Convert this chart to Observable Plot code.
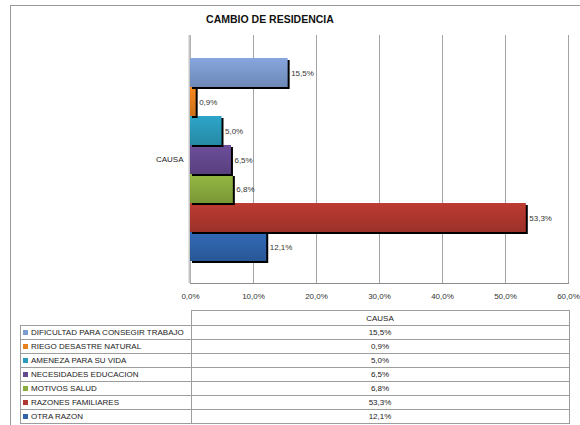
<!DOCTYPE html>
<html><head><meta charset="utf-8">
<script src="https://cdn.jsdelivr.net/npm/d3@7"></script>
<script src="https://cdn.jsdelivr.net/npm/@observablehq/plot@0.6"></script>
<style>
html,body{margin:0;padding:0;background:#fff;overflow:hidden;width:580px;height:425px;position:relative;}
#frame{position:absolute;left:10px;top:5px;width:640px;height:480px;border:1px solid #9a9a9a;}
#title{position:absolute;left:0;width:540px;top:13px;line-height:13px;text-align:center;font:bold 10.5px 'Liberation Sans',Arial,sans-serif;color:#111;}
#chart{position:absolute;left:0;top:0;}
#tbl{position:absolute;left:20px;top:310px;border-collapse:collapse;font:8px 'Liberation Sans',Arial,sans-serif;color:#222;}
#tbl td{border:1px solid #9d9d9d;padding:0 2px;height:13px;line-height:13px;white-space:nowrap;}
#tbl td.v{text-align:center;}
.sw{display:inline-block;width:5px;height:5px;margin-right:3px;vertical-align:0px;}
</style></head>
<body>
<div id="frame"></div>
<div id="title">CAMBIO DE RESIDENCIA</div>
<div id="chart"></div>
<svg width="0" height="0" style="position:absolute"><defs id="grads"></defs></svg>
<table id="tbl"></table>
<script>
const groupLabel = "CAUSA";
const names = ["DIFICULTAD PARA CONSEGIR TRABAJO","RIEGO DESASTRE NATURAL","AMENEZA PARA SU VIDA","NECESIDADES EDUCACION","MOTIVOS SALUD","RAZONES FAMILIARES","OTRA RAZON"];
const values = [15.5, 0.9, 5.0, 6.5, 6.8, 53.3, 12.1];
const colors = ["#7d9bcf","#e8801e","#2a9bbb","#65498f","#8aab3d","#b0372f","#2f63aa"];
const xTicks = [0, 10, 20, 30, 40, 50, 60];

const fmt = v => v.toFixed(1).replace(".", ",") + "%";

// gradients
const defs = d3.select("#grads");
colors.forEach((c, i) => {
  const g = defs.append("linearGradient").attr("id", "g" + i).attr("x1", 0).attr("y1", 0).attr("x2", 0).attr("y2", 1);
  g.append("stop").attr("offset", "0%").attr("stop-color", d3.color(c).brighter(0.2).formatHex());
  g.append("stop").attr("offset", "100%").attr("stop-color", d3.color(c).darker(0.35).formatHex());
});

const data = names.map((n, i) => ({name: n, value: values[i], grad: `url(#g${i})`}));

const barMarks = data.slice().reverse().flatMap(d => [
  Plot.barX([d], {x: "value", y: "name", fill: "#000", dx: 2, dy: 2, inset: 0}),
  Plot.barX([d], {x: "value", y: "name", fill: "grad", inset: 0})
]);

const chart = Plot.plot({
  width: 580, height: 305,
  marginLeft: 190, marginRight: 12, marginTop: 35, marginBottom: 22,
  style: {fontFamily: "'Liberation Sans', Arial, sans-serif", fontSize: "8px", color: "#333", background: "transparent"},
  x: {domain: [0, 60]},
  y: {domain: names, paddingInner: 0, paddingOuter: 0.72, axis: null},
  color: {type: "identity"},
  marks: [
    Plot.ruleX(xTicks, {stroke: "#a3a3a3"}),
    Plot.frame({anchor: "bottom", stroke: "#8c8c8c"}),
    Plot.ruleX([0], {stroke: "#c4c4c4", strokeWidth: 2, dx: -1}),
    ...barMarks,
    Plot.text(data, {x: "value", y: "name", text: d => fmt(d.value), dx: 3, textAnchor: "start", fill: "#333"}),
    Plot.text([groupLabel], {frameAnchor: "left", dx: -7, textAnchor: "end", fill: "#222"}),
    Plot.axisX({ticks: xTicks, tickSize: 0, tickPadding: 10, tickFormat: fmt, label: null, fill: "#333"})
  ]
});
document.getElementById("chart").appendChild(chart);

// data table (legend)
const tbl = d3.select("#tbl");
const head = tbl.append("tr");
head.append("td").style("border", "none").style("border-bottom", "1px solid #9d9d9d").style("width", "166px");
head.append("td").attr("class", "v").style("width", "373px").style("height", "14px").text(groupLabel);
data.forEach((d, i) => {
  const tr = tbl.append("tr");
  const td = tr.append("td");
  td.append("span").attr("class", "sw").style("background", colors[i]);
  td.append("span").text(d.name);
  tr.append("td").attr("class", "v").text(fmt(d.value));
});
</script>
</body></html>
